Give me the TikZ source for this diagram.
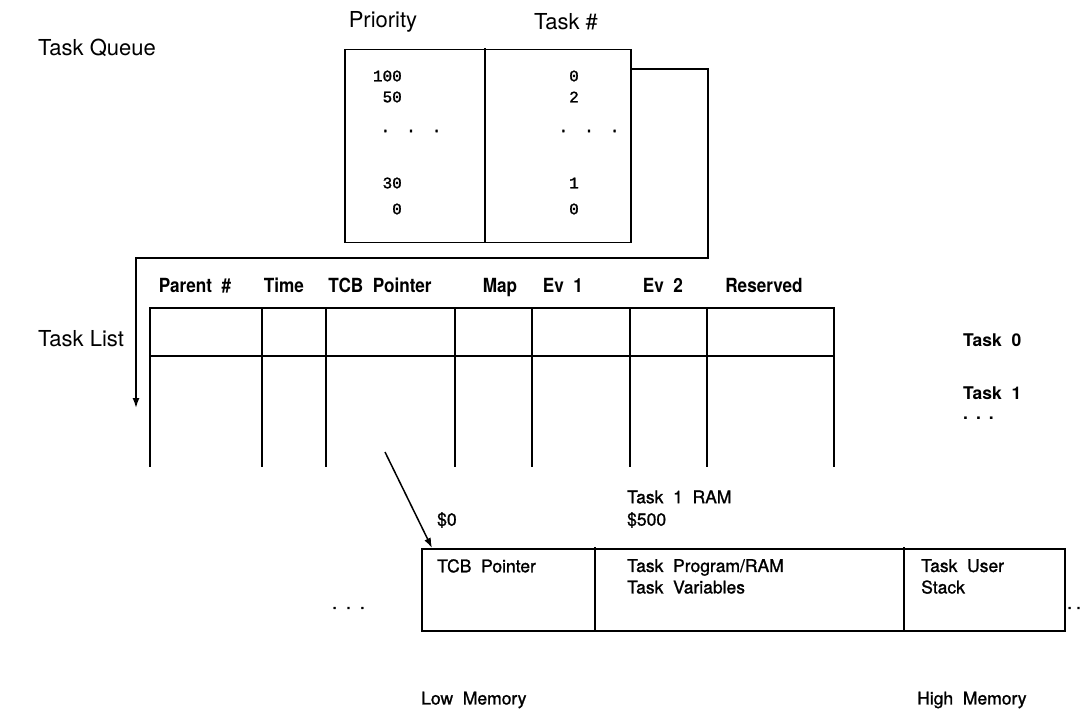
\documentclass[tikz,border=0pt]{standalone}
\usepackage{fontspec}
\setmainfont{TeX Gyre Heros}
\setmonofont[FakeBold=1.5]{Liberation Mono}
\newfontfamily\hdrfont[FakeStretch=0.88]{TeX Gyre Heros}
\newfontfamily\medfont[FakeBold=1.2]{TeX Gyre Heros}
\usetikzlibrary{arrows.meta}
\newcommand{\tdots}[1]{.\hspace{#1}.\hspace{#1}.}
\begin{document}
\begin{tikzpicture}[x=1pt,y=-1pt,
  lbl/.style={font=\fontsize{22}{24}\selectfont, inner sep=0pt},
  hdr/.style={font=\hdrfont\fontsize{19.5}{21}\selectfont\bfseries, inner sep=0pt, anchor=base},
  tsk/.style={font=\fontsize{17.5}{19}\selectfont\bfseries, inner sep=0pt},
  num/.style={font=\fontsize{16}{18}\selectfont\ttfamily, inner sep=0pt},
  memtxt/.style={font=\medfont\fontsize{17.5}{21.5}\selectfont, inner sep=0pt, align=left},
  box/.style={draw, line width=1.5pt, inner sep=0pt},
  ln/.style={line width=1.5pt, line cap=rect},
  arr/.style={line width=1.5pt, -{Latex[length=10pt,width=7pt]}}]
\useasboundingbox (0,0) rectangle (1080,722);

% ---------- Task queue ----------
\node[lbl, anchor=west] (tqlabel) at (38,48) {Task Queue};
\node[lbl] (prio) at (383,22) {Priority};
\node[lbl] (tnum) at (566,22) {Task \#};
\node[box, anchor=north west, minimum width=286pt, minimum height=193pt] (queue) at (344,49) {};
\draw[ln] (485,49) -- (485,242);
\node[num, anchor=east] (p1) at (402,76) {100};
\node[num, anchor=east] (p2) at (402,97) {50};
\node[num] (p3) at (411,131) {\tdots{16pt}};
\node[num, anchor=east] (p4) at (402,183) {30};
\node[num, anchor=east] (p5) at (402,209) {0};
\node[num] (t1) at (574,76) {0};
\node[num] (t2) at (574,97) {2};
\node[num] (t3) at (589,131) {\tdots{16pt}};
\node[num] (t4) at (574,183) {1};
\node[num] (t5) at (574,209) {0};

\coordinate (qout) at (630,69);
\coordinate (qc1) at (708,69);
\coordinate (qc2) at (708,258);
\coordinate (qc3) at (136,258);
\coordinate (listin) at (136,408);
\draw[arr] (qout) -- (qc1) -- (qc2) -- (qc3) -- (listin);

% ---------- Task list ----------
\node[lbl, anchor=west] (tllabel) at (38,339) {Task List};
\node[hdr] (h1) at (195,293) {Parent\ \ \#};
\node[hdr] (h2) at (284,293) {Time};
\node[hdr] (h3) at (380,293) {TCB\ \ Pointer};
\node[hdr] (h4) at (500,293) {Map};
\node[hdr] (h5) at (563,293) {Ev\ \ 1};
\node[hdr] (h6) at (663,293) {Ev\ \ 2};
\node[hdr] (h7) at (764,293) {Reserved};

\coordinate (rowtl) at (150,308);
\coordinate (rowtr) at (834,308);
\coordinate (rowml) at (150,356);
\coordinate (rowmr) at (834,356);
\draw[ln] (rowtl) -- (rowtr);
\draw[ln] (rowml) -- (rowmr);
\foreach \x in {150,262,326,455,532,630,707,834}
  \draw[ln] (\x,308) -- (\x,466);

\node[tsk, anchor=west] (task0) at (963,340) {Task\ \ 0};
\node[tsk, anchor=west] (task1) at (963,393) {Task\ \ 1};
\node[tsk, anchor=west] (tdts) at (963,418) {\tdots{8pt}};

% ---------- Memory ----------
\node[box, anchor=north west, minimum width=643pt, minimum height=82pt] (mem) at (421,548) {};
\draw[ln] (595,548) -- (595,630);
\draw[ln] (904,548) -- (904,630);

\coordinate (tcbptr) at (385,452);
\coordinate (memin) at (432,548);
\draw[arr] (tcbptr) -- (memin);

\node[memtxt, anchor=west] (zero) at (437,520) {\$0};
\node[memtxt, anchor=west] (ram) at (627,497) {Task\ \ 1\ \ RAM};
\node[memtxt, anchor=west] (d500) at (627,520) {\$500};
\node[memtxt, anchor=north west] (m1) at (437,559) {TCB\ \ Pointer};
\node[memtxt, anchor=north west] (m2) at (627,559) {Task\ \ Program/RAM\\Task\ \ Variables};
\node[memtxt, anchor=north west] (m3) at (921,559) {Task\ \ User\\Stack};
\node[memtxt, anchor=west] (ldots) at (332,608) {\tdots{9pt}};
\node[memtxt, anchor=west] (rdots) at (1067,608) {.\hspace{4pt}.};
\node[memtxt, anchor=west] (low) at (421,700) {Low\ \ Memory};
\node[memtxt, anchor=west] (high) at (917,700) {High\ \ Memory};
\end{tikzpicture}
\end{document}
